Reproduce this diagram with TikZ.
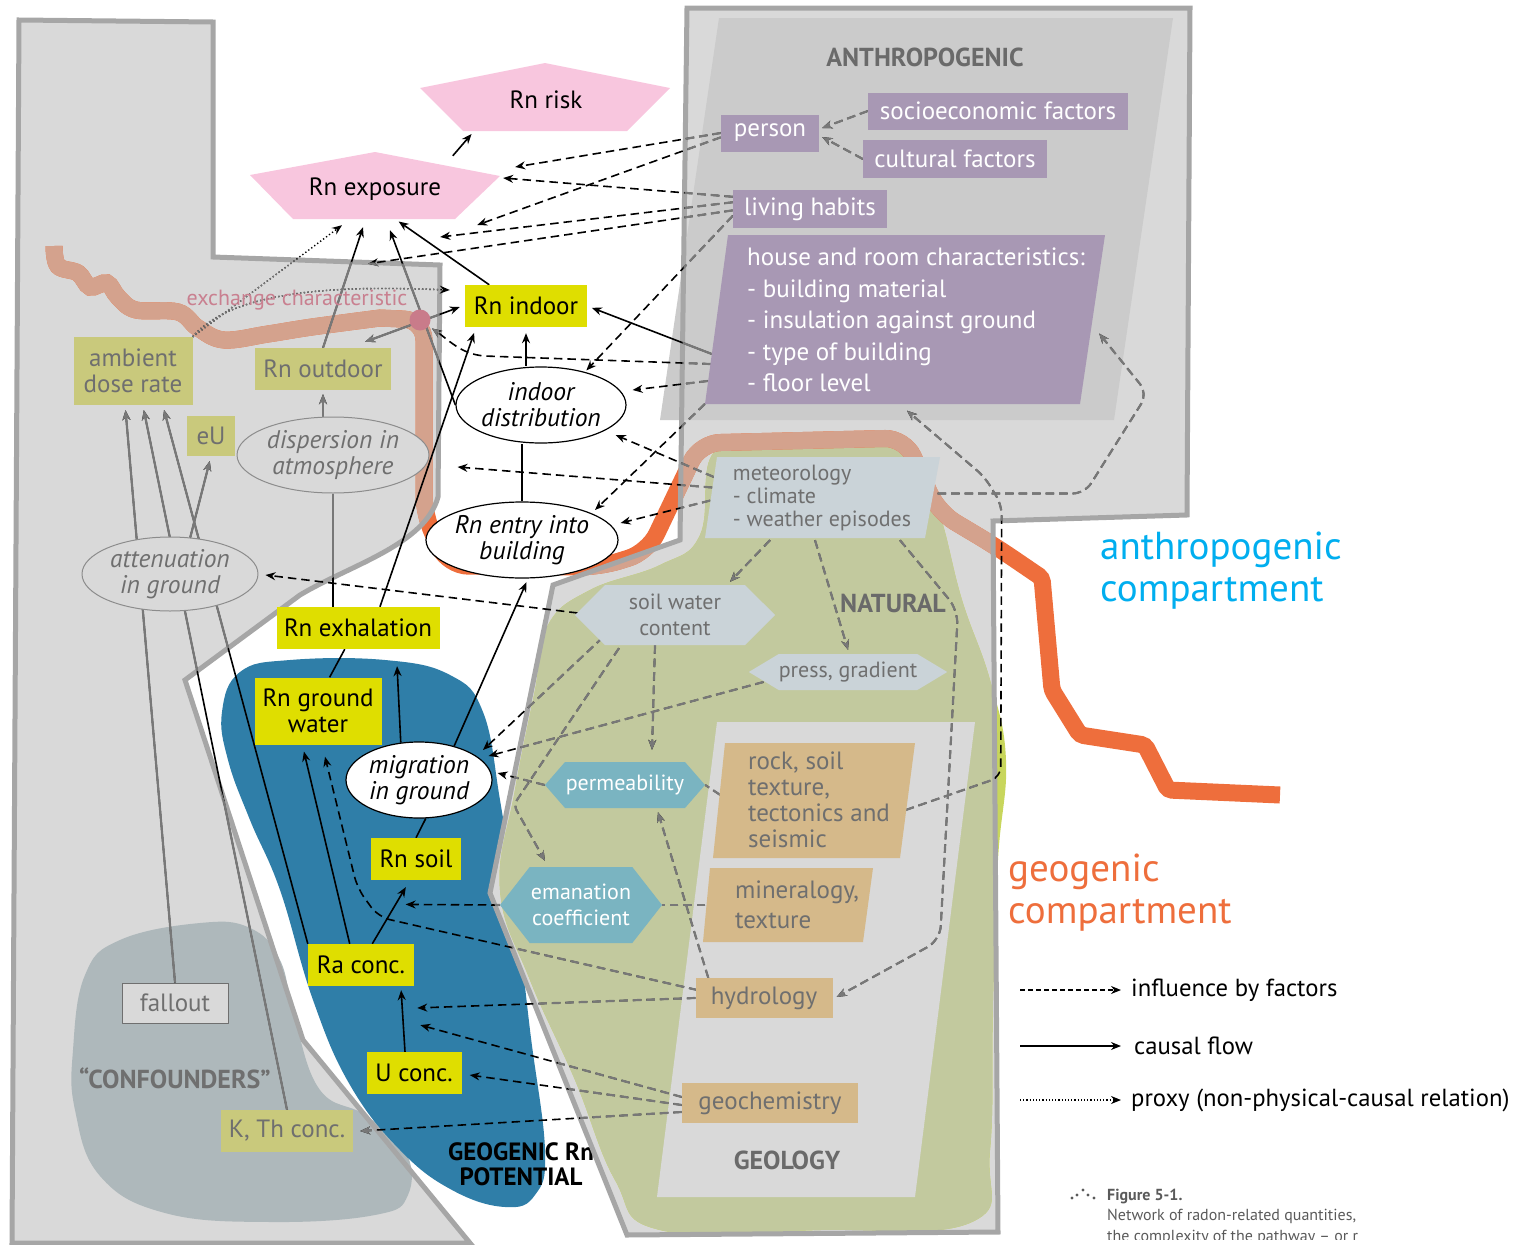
\documentclass[tikz,border=0pt]{standalone}
\usepackage{fontspec}
\setmainfont{PT Sans}
\usetikzlibrary{shapes.geometric,shapes.symbols,arrows.meta,calc}
\definecolor{regiongrey}{HTML}{D9D9D9}
\definecolor{regionline}{HTML}{A6A6A6}
\definecolor{panelgrey}{HTML}{CBCBCB}
\definecolor{naturegreen}{HTML}{C2C99E}
\definecolor{limeedge}{HTML}{C8D65C}
\definecolor{potblue}{HTML}{2F7EA8}
\definecolor{confoundgrey}{HTML}{AEB8BB}
\definecolor{exposepink}{HTML}{F8C6DE}
\definecolor{rnyellow}{HTML}{DFDE00}
\definecolor{proxykhaki}{HTML}{C9C97C}
\definecolor{lilac}{HTML}{A898B4}
\definecolor{mistblue}{HTML}{CAD3D8}
\definecolor{tealhex}{HTML}{7AB4C1}
\definecolor{geotan}{HTML}{D5B98A}
\definecolor{pipesalmon}{HTML}{D4A28D}
\definecolor{pipeorange}{HTML}{EE6E3C}
\definecolor{dotpink}{HTML}{C97B8A}
\definecolor{greytext}{HTML}{6F6F6F}
\definecolor{labelgrey}{HTML}{6A6A6A}
\definecolor{linkgrey}{HTML}{787878}
\definecolor{ovalline}{HTML}{8C8C8C}
\definecolor{cyanlab}{HTML}{00AEEF}
\definecolor{exchpink}{HTML}{C98090}
\definecolor{captiongrey}{HTML}{5A5A5A}
\pgfdeclarelayer{background}
\pgfdeclarelayer{links}
\pgfsetlayers{background,links,main}
\tikzset{
  leftregion/.style={insert path={(19,20) -- (213,22) -- (213,257) -- (440,265) -- (438,497) .. controls (425,545) and (350,565) .. (300,595) -- (185,680) -- (303,1040) -- (470,1243) -- (12,1243) -- cycle}},
  rightregion/.style={insert path={(687,8) -- (1190,8) -- (1187,515) -- (993,521) -- (998,1232) -- (627,1235) -- (490,893) -- (553,585) -- (680,540) -- cycle}},
  pipepath/.style={insert path={plot[smooth, tension=0.6] coordinates {(54,246) (58,266) (78,273) (90,287) (107,283) (118,297) (136,310) (178,312) (198,328) (224,340) (268,334) (312,327) (380,318)}
    [rounded corners=20pt] -- (424,320) -- (424,515) -- (448,566) -- (600,567) -- (648,552) -- (700,443) -- (905,438) -- (938,512) -- (995,546)
    [rounded corners=4pt] -- (1042,578) -- (1052,690) -- (1080,735) -- (1145,745) -- (1168,790) -- (1280,795)}},
  pipe/.style={line width=17pt},
  box/.style={inner sep=0pt, align=center, font=\fontsize{25}{26}\selectfont},
  rnbox/.style={box, fill=rnyellow},
  proxybox/.style={box, fill=proxykhaki, text=greytext},
  factorbox/.style={box, fill=lilac, text=white},
  factortext/.style={box, text=white, align=left, font=\fontsize{25}{31.5}\selectfont},
  geobox/.style={box, fill=geotan, text=greytext},
  geotext/.style={box, text=greytext, align=left},
  mettext/.style={box, text=greytext, align=left, font=\fontsize{22}{23}\selectfont},
  hexnode/.style={signal, signal to=east and west, inner sep=0pt, align=center, font=\fontsize{22}{26}\selectfont},
  stateoval/.style={ellipse, draw=black, line width=1.2pt, fill=white, inner sep=0pt, align=center, font=\fontsize{25.5}{26}\selectfont\itshape},
  ghostoval/.style={ellipse, draw=ovalline, line width=1pt, fill=regiongrey, text=greytext, inner sep=0pt, align=center, font=\fontsize{25.5}{26}\selectfont\itshape},
  regionlabel/.style={inner sep=0pt, font=\fontsize{26}{28}\selectfont\bfseries, text=labelgrey},
  legendtext/.style={anchor=west, inner sep=0pt, font=\fontsize{24.7}{28}\selectfont},
  linkwidth/.style={line width=1.6pt},
  causal/.style={linkwidth, ->},
  bond/.style={linkwidth},
  influence/.style={linkwidth, ->, dash pattern=on 8.5pt off 5pt},
  faint/.style={linkwidth, dash pattern=on 8.5pt off 5pt},
  proxy/.style={line width=1.4pt, ->, dash pattern=on 1.3pt off 2.4pt}
}
\newcommand{\shadedlinks}{%
  \draw[causal, shorten >=5pt] ($(house.west)+(-3,34)$) -- (rnindoor.east);
  \draw[causal] (indist.west) -- ($(rnexpo.south)+(15,11)$);
  \draw[causal] (rnout.north) -- ($(rnexpo.south)+(-12,8)$);
  \draw[causal, shorten >=5pt] (kth.north) -- (ambient.-74);
  \draw[causal, shorten >=5pt] (raconc.north west) -- (ambient.-49);
  \draw[causal, shorten >=5pt] (fallout.north) -- (ambient.257);
  \draw[causal, shorten >=5pt] (atten.61) -- (eu.south);
  \draw[causal, shorten >=4pt] (rnout.south |- disp.north) -- (rnout.south);
  \draw[bond] (disp.south |- rnexh.north) -- (disp.south);
  \draw[causal, <->] ($(rnout.north east)+(-26,-6)$) -- ($(rnindoor.west)+(-5,1)$);
  \draw[proxy] (ambient.north east) -- ($(rnexpo.south)+(-33,6)$);
  \draw[proxy] (ambient.north east) to[out=50, in=178, looseness=0.7] ($(rnindoor.west)+(-15,-16)$);
  \draw[influence] (person.west) -- ($(rnexpo.east)+(65,-22)$);
  \draw[influence] (person.185) -- ($(rnexpo.east)+(27,36)$);
  \draw[influence] (living.171) -- ($(rnexpo.east)+(53,-11)$);
  \draw[influence] (living.175) -- ($(rnexpo.east)+(-10,48)$);
  \draw[influence, shorten >=12pt] (living.181) -- ($(rnout.north)!0.64!(rnexpo.south)$);
  \draw[influence, shorten >=2pt] (living.185) -- (indist.37);
  \draw[influence, shorten >=4pt] ($(house.west)+(-4,44)$) -- ($(rnindoor.south west)+(25,29)$) to[out=180, in=-35] (exdot);
  \draw[influence] ($(house.west)+(-7,61)$) -- ($(indist.east)+(6,-15)$);
  \draw[influence] ($(house.west)+(-10,84)$) -- ($(rnentry.center)+(73,-30)$);
  \draw[influence] ($(met.west)+(4.5,-20.5)$) -- ($(indist.east)+(-11,30)$);
  \draw[influence] ($(met.west)+(3,-10)$) -- ($(disp.east)+(28,12)$);
  \draw[influence] ($(met.west)+(1,3)$) -- ($(rnentry.east)+(2,-17)$);
  \draw[influence, rounded corners=12pt] ($(met.east)+(3,-4)$) -- ++(147,0) -- ++(63,-100) -- ($(house.east)+(-18,13.5)$);
  \draw[influence, rounded corners=10pt] ($(rock.east)+(-16,10)$) -- ++(95,-33) -- ++(1,-272) -- ++(-17,-28) -- ($(house.south)+(-9,6)$);
  \draw[influence, rounded corners=14pt] ($(met.south)+(78,2)$) -- ++(58,70) -- ++(-18,330) -- ($(hydro.east)+(4,-1)$);
  \draw[influence] ($(met.south)+(-52,2)$) -- ($(soilw.north)+(55,-3)$);
  \draw[influence] ($(met.south)+(-7,2)$) -- ($(press.north)+(0,-4)$);
  \draw[influence] (socio.west) -- ($(person.east)+(3,-5)$);
  \draw[influence] (cultural.west) -- ($(person.east)+(3,4)$);
  \draw[influence] ($(soilw.south)+(-20,0)$) -- ($(perm.north)+(27,-12)$);
  \draw[influence] ($(soilw.south)+(-72,-8)$) -- ($(migr.center)+(64,-30)$);
  \draw[influence, rounded corners=6pt] ($(soilw.south)+(-56,3)$) -- ($(migr.east)+(21,25)$) -- ($(eman.north)+(-36,-6)$);
  \draw[influence] ($(press.west)+(15,10)$) -- ($(migr.east)+(-4,-24)$);
  \draw[influence] (perm.west) -- ($(migr.east)+(5,-7)$);
  \draw[faint] ($(rock.west)+(4,-5)$) -- (perm.east);
  \draw[influence] ($(hydro.west)+(13,-20)$) -- ($(perm.south)+(33,4)$);
  \draw[faint] (mineral.west) -- (eman.east);
  \draw[influence, shorten >=10pt] (eman.west) -- ($(raconc.62)!0.62!(rnsoil.254)$);
  \draw[influence, rounded corners=12pt] ($(hydro.west)+(2,-8)$) -- ++(-319,-73) -- ++(-21,-29) -- ($(rngw.south)+(7,12)$);
  \draw[influence, shorten >=15pt] (hydro.west) -- ($(uconc.113)!0.66!(raconc.-28)$);
  \draw[influence, shorten >=18pt] ($(geochem.west)+(0,-6)$) -- ($(uconc.113)!0.48!(raconc.-28)$);
  \draw[influence] ($(geochem.west)+(0,2)$) -- ($(uconc.east)+(8,2)$);
  \draw[influence] ($(geochem.west)+(0,9)$) -- ($(kth.east)+(7,0)$);
}
\begin{document}
\begin{tikzpicture}[x=1pt, y=-1pt, line join=round, >={Stealth[length=10pt,width=8pt]}]
\useasboundingbox (0,0) rectangle (1527,1245);
\begin{pgfonlayer}{background}
  \fill[regiongrey, leftregion];
  \fill[confoundgrey] plot[smooth cycle, tension=0.7] coordinates {(73,1050) (85,975) (120,940) (200,923) (250,928) (280,960) (295,1020) (320,1090) (365,1115) (405,1150) (408,1195) (375,1215) (270,1222) (165,1213) (100,1176) (75,1110)};
  \fill[potblue] plot[smooth cycle, tension=0.7] coordinates {(222,712) (240,672) (290,660) (385,660) (450,675) (483,712) (500,800) (515,900) (530,1030) (545,1150) (535,1195) (505,1207) (452,1190) (400,1150) (350,1085) (313,1000) (280,890) (250,820) (228,760)};
  \node[align=center, inner sep=0pt, font=\fontsize{25}{25}\selectfont\bfseries] (potential) at (521,1164) {GEOGENIC Rn\\POTENTIAL};
  \fill[regiongrey, rightregion];
  \fill[panelgrey] (719,18) -- (1173,18) -- (1114,420) -- (660,420) -- cycle;
  \fill[limeedge] plot[smooth cycle, tension=0.7] coordinates {(712,455) (760,443) (850,440) (915,455) (940,515) (962,600) (990,680) (1006,760) (998,860) (993,1000) (990,1150) (972,1222) (820,1230) (660,1230) (615,1180) (575,1080) (530,980) (500,890) (515,790) (535,690) (548,625) (590,590) (660,565) (700,535)};
  \begin{scope}
    \clip[rightregion];
    \fill[naturegreen] plot[smooth cycle, tension=0.7] coordinates {(712,455) (760,443) (850,440) (915,455) (940,515) (962,600) (990,680) (1006,760) (998,860) (993,1000) (990,1150) (972,1222) (820,1230) (660,1230) (615,1180) (575,1080) (530,980) (500,890) (515,790) (535,690) (548,625) (590,590) (660,565) (700,535)};
  \end{scope}
  \fill[regiongrey] (717,722) -- (975,722) -- (915,1197) -- (657,1197) -- cycle;
  \draw[pipe, pipeorange, pipepath];
  \begin{scope}
    \clip[leftregion];
    \draw[pipe, pipesalmon, pipepath];
  \end{scope}
  \begin{scope}
    \clip[rightregion];
    \draw[pipe, pipesalmon, pipepath];
  \end{scope}
  \draw[regionline, line width=5pt, leftregion];
  \draw[regionline, line width=5pt, rightregion];
\end{pgfonlayer}

\fill[exposepink] (420,88) -- (545,63) -- (670,88) -- (627,131) -- (463,131) -- cycle;
\node[box, minimum width=142pt, minimum height=60pt] (rnrisk) at (546,100) {Rn risk};
\fill[exposepink] (250,175) -- (375,152) -- (500,176) -- (455,219) -- (293,219) -- cycle;
\node[box, minimum width=150pt, minimum height=60pt] (rnexpo) at (375,189) {Rn exposure};

\node[rnbox, minimum width=122pt, minimum height=42pt] (rnindoor) at (526,306) {Rn indoor};
\node[rnbox, minimum width=163pt, minimum height=42pt] (rnexh) at (358,628) {Rn exhalation};
\node[rnbox, minimum width=127pt, minimum height=67pt] (rngw) at (318,711) {Rn ground\\water};
\node[rnbox, minimum width=90pt, minimum height=42pt] (rnsoil) at (416,859) {Rn soil};
\node[rnbox, minimum width=106pt, minimum height=42pt] (raconc) at (361,965) {Ra conc.};
\node[rnbox, minimum width=95pt, minimum height=42pt] (uconc) at (414,1073) {U conc.};

\node[proxybox, minimum width=119pt, minimum height=68pt] (ambient) at (133,371) {ambient\\dose rate};
\node[proxybox, minimum width=136pt, minimum height=42pt] (rnout) at (323,369) {Rn outdoor};
\node[proxybox, minimum width=48pt, minimum height=40pt] (eu) at (211,436) {eU};
\node[proxybox, minimum width=132pt, minimum height=42pt] (kth) at (287,1131) {K, Th conc.};
\node[box, fill=regiongrey, draw=greytext, line width=1pt, text=greytext, minimum width=106pt, minimum height=40pt] (fallout) at (175,1003) {fallout};

\node[stateoval, minimum width=170pt, minimum height=76pt] (indist) at (541,405) {indoor\\distribution};
\node[stateoval, minimum width=192pt, minimum height=76pt] (rnentry) at (522,540) {Rn entry into\\building};
\node[stateoval, minimum width=146pt, minimum height=76pt] (migr) at (419,780) {migration\\in ground};
\node[ghostoval, minimum width=192pt, minimum height=76pt] (disp) at (333,455) {dispersion in\\atmosphere};
\node[ghostoval, minimum width=176pt, minimum height=74pt] (atten) at (170,574) {attenuation\\in ground};

\node[factorbox, minimum width=98pt, minimum height=37pt] (person) at (770,133) {person};
\node[factorbox, minimum width=260pt, minimum height=37pt] (socio) at (998,111) {socioeconomic factors};
\node[factorbox, minimum width=184pt, minimum height=38pt] (cultural) at (955,159) {cultural factors};
\node[factorbox, minimum width=154pt, minimum height=38pt] (living) at (810,209) {living habits};
\fill[lilac] (728,235) -- (1105,235) -- (1080,404) -- (705,404) -- cycle;
\node[factortext, minimum width=402pt, minimum height=169pt] (house) at (916,320) {house and room characteristics:\\- building material\\- insulation against ground\\- type of building\\- floor level};

\fill[mistblue] (717,457) -- (940,457) -- (925,538) -- (705,538) -- cycle;
\node[mettext, minimum width=225pt, minimum height=81pt] (met) at (822,497.5) {meteorology\\- climate\\- weather episodes};
\node[hexnode, fill=mistblue, text=greytext, minimum width=200pt, minimum height=60pt, signal pointer angle=90] (soilw) at (675,615) {soil water\\content};
\node[hexnode, fill=mistblue, text=greytext, minimum width=195pt, minimum height=36pt, signal pointer angle=62] (press) at (848,672) {press, gradient};
\node[hexnode, fill=tealhex, text=white, minimum width=160pt, minimum height=46pt, signal pointer angle=98] (perm) at (625,785) {permeability};
\node[hexnode, fill=tealhex, text=white, minimum width=162pt, minimum height=76pt, signal pointer angle=104] (eman) at (581,905) {emanation\\coefficient};

\fill[geotan] (725,743) -- (915,743) -- (900,858) -- (713,858) -- cycle;
\node[geotext, minimum width=205pt, minimum height=115pt] (rock) at (819,800) {rock, soil\\texture,\\tectonics and\\seismic};
\fill[geotan] (710,868) -- (873,868) -- (863,942) -- (703,942) -- cycle;
\node[geotext, font=\fontsize{25}{30}\selectfont, minimum width=183pt, minimum height=74pt] (mineral) at (797,905) {mineralogy,\\texture};
\node[geobox, minimum width=137pt, minimum height=40pt] (hydro) at (764,998) {hydrology};
\node[geobox, minimum width=176pt, minimum height=40pt] (geochem) at (770,1103) {geochemistry};

\node[regionlabel] (anthrolabel) at (925,57) {ANTHROPOGENIC};
\node[regionlabel] (naturallabel) at (893,603) {NATURAL};
\node[regionlabel] (geolabel) at (787,1160) {GEOLOGY};
\node[regionlabel, text=greytext] (confoundlabel) at (175,1078) {“CONFOUNDERS”};
\node[inner sep=0pt, text=exchpink, font=\fontsize{22}{24}\selectfont] (exchlabel) at (297,300) {exchange characteristic};
\node[circle, fill=dotpink, inner sep=0pt, minimum size=21pt] (exdot) at (420,320) {};

\begin{pgfonlayer}{links}
  \shadedlinks
  \begin{scope}[color=linkgrey, linkwidth/.style={line width=2.2pt}]
    \clip[leftregion];
    \shadedlinks
  \end{scope}
  \begin{scope}[color=linkgrey, linkwidth/.style={line width=2.2pt}]
    \clip[rightregion];
    \shadedlinks
  \end{scope}
  \draw[causal, shorten <=4pt, shorten >=5pt] (rnexpo.north east) -- (rnrisk.south west);
  \draw[causal, shorten >=4pt] (rnindoor.150) -- (rnexpo.-56);
  \draw[causal, shorten >=6pt] (rnindoor.south |- indist.north) -- (rnindoor.south);
  \draw[bond] (rnentry.north) -- (rnentry.north |- indist.south);
  \draw[causal, shorten >=6pt] (rnexh.44) -- (rnindoor.203);
  \draw[bond] (rngw.71) -- (rnexh.238);
  \draw[causal, shorten >=17pt] (migr.116) -- (rnexh.-29);
  \draw[causal, shorten >=4pt] (migr.44) -- (rnentry.-81);
  \draw[bond] (rnsoil.north) -- (migr.-80);
  \draw[causal, shorten >=8pt] (raconc.62) -- (rnsoil.254);
  \draw[causal, shorten >=4pt] (uconc.113) -- (raconc.-28);
  \draw[causal, shorten >=7pt] (raconc.118) -- (rngw.245);
  \draw[influence] ($(soilw.west)+(3,-2)$) -- ($(atten.east)+(7,1)$);
\end{pgfonlayer}

\node[anchor=west, align=left, inner sep=0pt, text=cyanlab, font=\fontsize{39}{42}\selectfont] (anthrocomp) at (1100,571) {anthropogenic\\compartment};
\node[anchor=west, align=left, inner sep=0pt, text=pipeorange, font=\fontsize{39}{42}\selectfont] (geocomp) at (1008,893) {geogenic\\compartment};

\coordinate (leginf) at (1020,990);
\coordinate (legcausal) at (1020,1046);
\coordinate (legproxy) at (1020,1100);
\node[legendtext] (leginftext) at (1131,990) {influence by factors};
\node[legendtext] (legcausaltext) at (1134,1046) {causal flow};
\node[legendtext] (legproxytext) at (1131,1100) {proxy (non-physical-causal relation)};
\draw[->, line width=1.2pt, dash pattern=on 5pt off 3pt, shorten >=10pt] (leginf) -- (leginftext.west);
\draw[->, line width=1.2pt, shorten >=13pt] (legcausal) -- (legcausaltext.west);
\draw[->, line width=1.2pt, dash pattern=on 1.2pt off 2pt, shorten >=10pt] (legproxy) -- (legproxytext.west);

\begin{scope}
  \clip (1060,1180) rectangle (1360,1239);
  \foreach \x/\y in {1072/1198, 1077/1195, 1083/1190, 1088/1195, 1094/1198}
    \fill[captiongrey] (\x,\y) circle (1.7pt);
  \node[anchor=base west, inner sep=0pt, text=captiongrey, font=\fontsize{16}{18}\selectfont\bfseries] (figno) at (1107,1200) {Figure 5-1.};
  \node[anchor=base west, inner sep=0pt, text=captiongrey, font=\fontsize{16}{18}\selectfont] (figline) at (1107,1220) {Network of radon-related quantities,};
  \node[anchor=base west, inner sep=0pt, text=captiongrey, font=\fontsize{16}{18}\selectfont] (figlinetwo) at (1107,1241) {the complexity of the pathway – or r};
\end{scope}
\end{tikzpicture}
\end{document}
